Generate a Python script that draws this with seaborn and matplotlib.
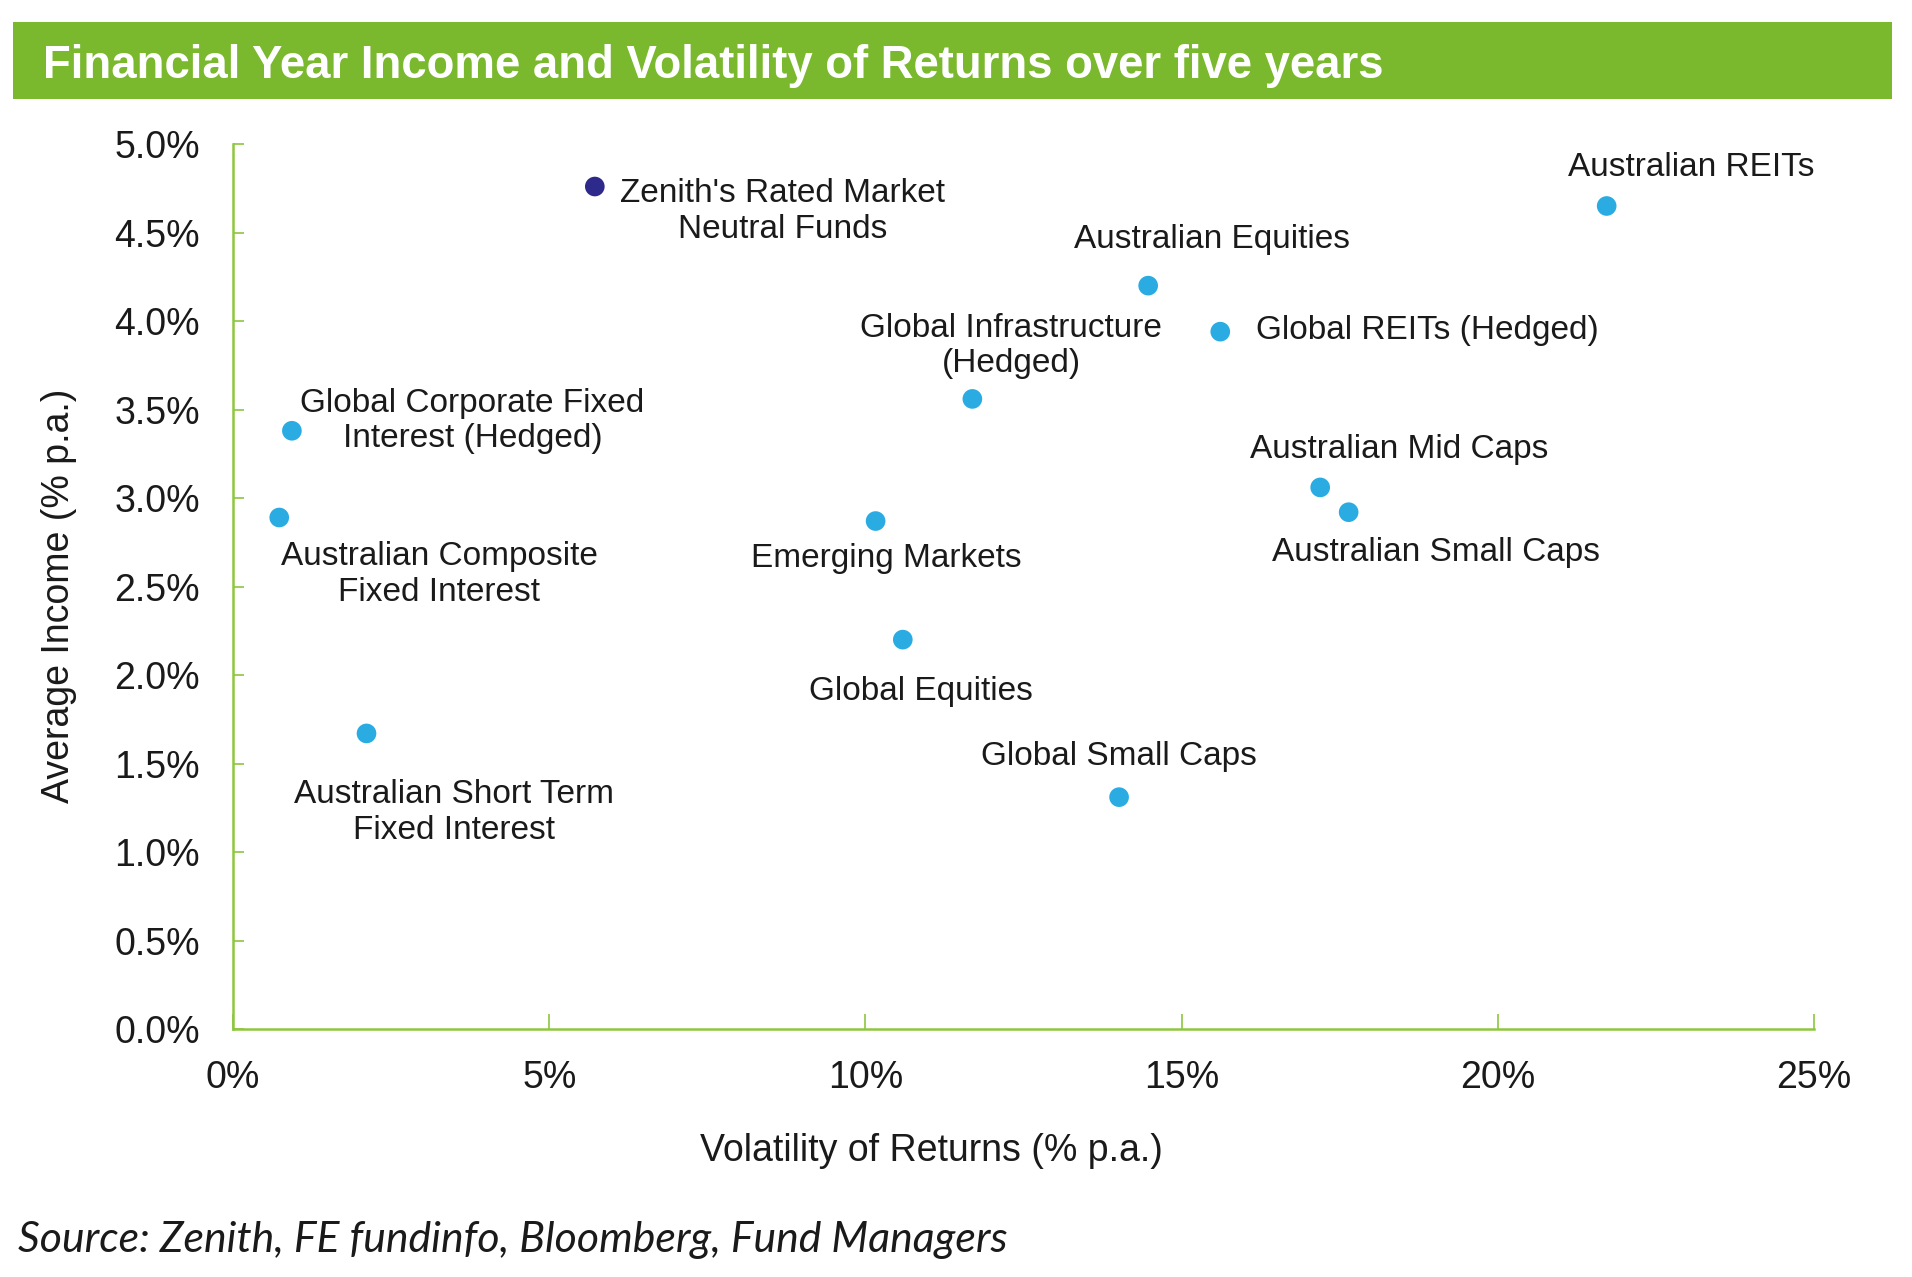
import matplotlib
matplotlib.use("Agg")
import matplotlib.pyplot as plt
import matplotlib.ticker as mtick
from matplotlib.patches import Rectangle
import seaborn as sns
import pandas as pd

# data
names = [
    "Zenith's Rated Market\nNeutral Funds",
    "Australian REITs",
    "Australian Equities",
    "Global REITs (Hedged)",
    "Global Infrastructure\n(Hedged)",
    "Global Corporate Fixed\nInterest (Hedged)",
    "Australian Composite\nFixed Interest",
    "Emerging Markets",
    "Australian Mid Caps",
    "Australian Small Caps",
    "Global Equities",
    "Australian Short Term\nFixed Interest",
    "Global Small Caps",
]
volatility = [5.72, 21.72, 14.47, 15.61, 11.69, 0.93, 0.73, 10.16, 17.19, 17.64, 10.59, 2.11, 14.01]
income = [4.76, 4.65, 4.20, 3.94, 3.56, 3.38, 2.89, 2.87, 3.06, 2.92, 2.20, 1.67, 1.31]
group = ["Zenith"] + ["Asset class"] * 12

x_ticks = [0, 5, 10, 15, 20, 25]
y_ticks = [0.0, 0.5, 1.0, 1.5, 2.0, 2.5, 3.0, 3.5, 4.0, 4.5, 5.0]

# label offsets from each point, in points
label_offsets = [
    (135, -18), (61, 28), (46, 33), (149, 1), (28, 38), (130, 7),
    (115, -41), (8, -27), (57, 27), (63, -29), (13, -37), (63, -57), (0, 29),
]

GREEN_BAR = "#7AB82E"
GREEN_AXIS = "#8DC63F"
CYAN = "#2AACE2"
NAVY = "#2E2A8C"
TEXT = "#1a1a1a"

df = pd.DataFrame({"name": names, "vol": volatility, "inc": income, "group": group})

sns.set_theme(style="white")
plt.rcParams["font.family"] = ["Liberation Sans", "DejaVu Sans"]

fig = plt.figure(figsize=(19.12, 12.77), dpi=100)
ax = fig.add_axes([0.1219, 0.1942, 0.8269, 0.6930])

sns.scatterplot(data=df, x="vol", y="inc", hue="group",
                palette={"Zenith": NAVY, "Asset class": CYAN},
                s=200, linewidth=0, legend=False, ax=ax, zorder=3)

for (nm, xv, yv), (dx, dy) in zip(zip(names, volatility, income), label_offsets):
    ax.annotate(nm, (xv, yv), xytext=(dx, dy), textcoords="offset points",
                ha="center", va="center", multialignment="center",
                fontsize=24, color=TEXT, linespacing=1.18)

ax.set_xlim(0, 25)
ax.set_ylim(0, 5)
ax.set_xticks(x_ticks)
ax.set_yticks(y_ticks)
ax.xaxis.set_major_formatter(mtick.FuncFormatter(lambda v, p: f"{v:.0f}%"))
ax.yaxis.set_major_formatter(mtick.FuncFormatter(lambda v, p: f"{v:.1f}%"))
ax.tick_params(axis="x", bottom=True, direction="in", length=11, width=1.2, color=GREEN_AXIS,
               labelsize=27, labelcolor=TEXT, pad=22)
ax.tick_params(axis="y", left=True, direction="in", length=8, width=1.2, color=GREEN_AXIS,
               labelsize=27, labelcolor=TEXT, pad=24)

for side in ["top", "right"]:
    ax.spines[side].set_visible(False)
for side in ["left", "bottom"]:
    ax.spines[side].set_color(GREEN_AXIS)
    ax.spines[side].set_linewidth(1.8)

ax.set_xlabel("Volatility of Returns (% p.a.)", fontsize=27, color=TEXT)
ax.set_ylabel("Average Income (% p.a.)", fontsize=27, color=TEXT)
ax.xaxis.set_label_coords(0.442, -0.138)
ax.yaxis.set_label_coords(-0.110, 0.49)
ax.xaxis.label.set_va("center")
ax.yaxis.label.set_va("center")

# green title bar
fig.patches.append(Rectangle((0.0068, 0.9225), 0.9827, 0.0603, transform=fig.transFigure,
                             facecolor=GREEN_BAR, edgecolor="none", zorder=0))
fig.text(0.0225, 0.948, "Financial Year Income and Volatility of Returns over five years",
         fontsize=32.8, fontweight="bold", color="white", va="center", ha="left")

fig.text(0.0096, 0.029, "Source: Zenith, FE fundinfo, Bloomberg, Fund Managers",
         fontsize=30.8, style="italic", color=TEXT, va="center", ha="left",
         family=["Lato", "DejaVu Sans"])

fig.savefig("out.png", dpi=100)
